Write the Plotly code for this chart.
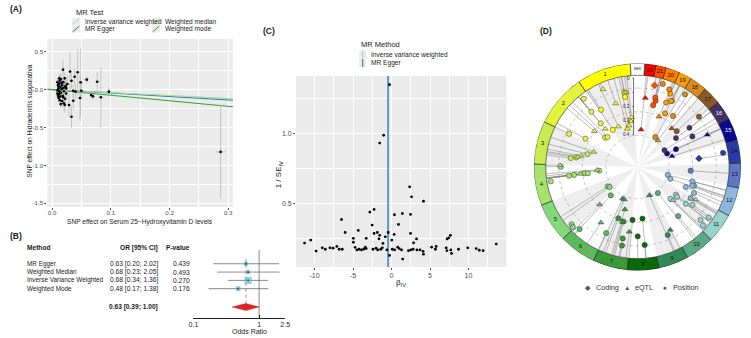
import numpy as np
import plotly.graph_objects as go

W, H = 751, 338
FONT = "Liberation Sans, Arial, sans-serif"

# ---------------- Panel A data (SNP effects) ----------------
a_bx = [0.009, 0.010, 0.011, 0.012, 0.009, 0.010, 0.013, 0.014, 0.011, 0.012,
        0.015, 0.016, 0.013, 0.017, 0.018, 0.019, 0.020, 0.021, 0.022, 0.010,
        0.012, 0.014, 0.016, 0.011, 0.009, 0.015, 0.017, 0.023, 0.013, 0.018,
        0.020, 0.012, 0.024, 0.019, 0.0186, 0.0305, 0.0435, 0.0215, 0.059, 0.0768,
        0.0384, 0.033, 0.0486, 0.0136, 0.026, 0.024, 0.036, 0.0497, 0.0666, 0.0695,
        0.083, 0.0966, 0.040, 0.0475, 0.036, 0.0288, 0.0215, 0.0147, 0.033, 0.287]
a_by = [0.10, 0.06, 0.02, -0.02, -0.05, -0.08, 0.12, 0.04, -0.11, 0.08,
        -0.04, 0.01, -0.14, 0.06, -0.08, 0.10, -0.02, 0.03, -0.12, 0.00,
        -0.06, -0.09, 0.09, 0.04, -0.01, 0.14, -0.15, 0.05, -0.03, 0.02,
        -0.18, 0.15, -0.05, -0.10, 0.265, 0.239, 0.230, 0.150, 0.133, 0.106,
        0.172, 0.119, 0.097, 0.128, 0.075, 0.017, -0.013, -0.013, -0.070, -0.088,
        -0.100, -0.026, -0.026, -0.110, -0.146, -0.203, -0.203, -0.190, -0.358, -0.822]
a_sy = [0.05, 0.04, 0.03, 0.04, 0.05, 0.06, 0.07, 0.05, 0.05, 0.04,
        0.06, 0.05, 0.07, 0.06, 0.07, 0.06, 0.08, 0.07, 0.09, 0.03,
        0.03, 0.05, 0.06, 0.04, 0.03, 0.08, 0.08, 0.08, 0.04, 0.05,
        0.10, 0.06, 0.09, 0.07, 0.13, 0.25, 0.30, 0.08, 0.05, 0.12,
        0.10, 0.10, 0.45, 0.06, 0.12, 0.10, 0.08, 0.10, 0.05, 0.04,
        0.40, 0.06, 0.10, 0.30, 0.12, 0.15, 0.10, 0.06, 0.15, 0.62]
a_sx = [0.002] * 14 + [0.003] * 6 + [0.002] * 6 + [0.003, 0.003, 0.002, 0.003,
        0.003, 0.002, 0.003, 0.003, 0.003, 0.003, 0.004, 0.003, 0.004, 0.004,
        0.003, 0.003, 0.004, 0.002, 0.003, 0.003, 0.003, 0.004, 0.004, 0.004,
        0.005, 0.005, 0.003, 0.004, 0.003, 0.003, 0.003, 0.002, 0.003, 0.0085]

mr_methods = ["Inverse variance weighted", "MR Egger", "Weighted median", "Weighted mode"]
mr_slopes = [-0.386, -0.462, -0.386, -0.734]
mr_intercepts = [0.0, 0.002, 0.0, 0.0]
mr_colors = ["#a6cee3", "#1f78b4", "#b2df8a", "#33a02c"]

# ---------------- Panel B data (forest) ----------------
b_methods = ["MR Egger", "Weighted Median", "Inverse Variance Weighted", "Weighted Mode"]
b_or = [0.63, 0.68, 0.68, 0.48]
b_lo = [0.20, 0.23, 0.34, 0.17]
b_hi = [2.02, 2.05, 1.36, 1.38]
b_p = ["0.439", "0.493", "0.270", "0.176"]
pooled_or, pooled_lo, pooled_hi = 0.63, 0.39, 1.00

# ---------------- Panel C data (funnel) ----------------
c_beta = [-0.26, -1.03, -1.54, 2.35, 2.6, 4.15, -2.82, -2.27, 0.38, 1.41, 2.47, -6.5,
          -2.52, 0.9, -6.03, -4.32, -2.27, -1.84, -0.43, 0.34, 2.47, -4.96, -4.96,
          -3.29, -1.54, -1.63, -0.81, 3.25, 2.86, 7.22, 7.44, 7.65, 0.04, -1.11, 13.6,
          -8.0, -7.6, -7.1, -6.8, -6.4, -4.74, -4.5, -4.2, -3.9, -3.6, -3.4, -3.3,
          -2.4, -2.0, -1.8, -1.4, -1.2, -0.6, -0.26, 0.1, 0.4, 0.8, 1.0, 1.3, 1.45,
          2.2, 2.5, 2.8, 3.3, 3.7, 4.1, 4.15, 5.2, 5.7, 5.8, 7.1, 7.2, 7.7, 7.8,
          8.7, 9.9, 11.0, 11.4, 11.9, -11.3, -10.5, -9.8, -9.0, -8.6]
c_inv_se = [1.348, 0.986, 0.93, 0.617, 0.545, 0.514, 0.436, 0.455, 0.417, 0.426, 0.419,
            0.383, 0.343, 0.348, 0.29, 0.305, 0.283, 0.29, 0.29, 0.276, 0.283, 0.248,
            0.22, 0.248, 0.27, 0.245, 0.259, 0.244, 0.216, 0.244, 0.252, 0.27, 0.236,
            0.212, 0.207, 0.18, 0.178, 0.19, 0.17, 0.17, 0.184, 0.165, 0.17, 0.165,
            0.172, 0.185, 0.175, 0.17, 0.178, 0.165, 0.17, 0.18, 0.165, 0.126, 0.17,
            0.165, 0.185, 0.175, 0.165, 0.10, 0.16, 0.165, 0.17, 0.165, 0.165, 0.155,
            0.135, 0.185, 0.17, 0.19, 0.18, 0.16, 0.165, 0.14, 0.17, 0.18, 0.175,
            0.163, 0.16, 0.214, 0.236, 0.157, 0.18, 0.17]
c_methods = ["Inverse variance weighted", "MR Egger"]
c_estimates = [-0.386, -0.462]
c_colors = ["#a6cee3", "#1f78b4"]

# ---------------- Panel D data (circular genome plot) ----------------
chrom_names = [str(i) for i in range(1, 23)]
chrom_len = [249, 242, 198, 190, 181, 171, 159, 145, 138, 134, 135, 133,
             114, 107, 102, 90, 83, 80, 59, 64, 47, 51]
chrom_colors = ["#ffff00", "#e3f33a", "#c8ec50", "#a6e36c", "#84d87c", "#5cba5c",
                "#3a9a3a", "#0a6a0a", "#2f8a55", "#5fa886", "#98d3cf", "#8db6de",
                "#5c78c2", "#2b3ba6", "#0b0b8a", "#463068", "#8b5a2b", "#d98c1c",
                "#ff9e00", "#ff7f00", "#ff4d00", "#ff0000"]
d_theta = [23.9, 10.0, 10.1, 18.9, 32.5, 25.2, 33.6, 14.9, 11.7, 8.2, 6.8,
           38.2, 39.8, 40.1, 40.2, 47.7, 45.0, 50.3, 61.4, 64.1,
           71.0, 75.6, 78.8, 80.3, 81.1, 82.4, 88.8,
           89.8, 97.2, 97.1, 96.9, 96.7, 97.1, 94.2, 95.5, 99.4,
           123.0, 125.6, 131.0, 133.0,
           136.8, 134.8, 146.7, 154.7, 137.0, 154.9,
           158.0, 163.5, 164.6, 159.6, 165.5, 168.3, 172.8, 168.9,
           174.7, 185.5, 180.2, 185.3,
           203.2, 207.6, 204.0,
           218.2, 219.7,
           228.2, 230.0, 234.6, 234.3, 232.9, 225.9, 226.9, 239.9, 240.8, 232.7, 235.5, 239.3,
           247.5, 251.7, 245.3, 255.4, 250.2, 255.2, 251.2,
           266.0,
           277.9, 279.4,
           287.4, 294.5, 294.8, 294.8,
           299.1, 301.9, 306.9, 307.0,
           309.3, 312.4, 318.5,
           322.5, 326.8, 325.2, 328.9,
           332.7, 332.4, 333.1, 335.9, 336.0,
           336.9, 337.7, 343.0, 344.7,
           345.6, 345.7, 348.2,
           353.5, 354.5]
d_r = [86, 76.5, 72.1, 68, 68.8, 45.3, 45.2, 40, 42.9, 46.8, 50.6,
       88, 72.9, 57.9, 50.6, 44.2, 42.9, 56.8, 60, 77,
       46.9, 52.3, 58.1, 61.2, 62.8, 68.3, 78.4,
       77.7, 69.8, 64.8, 58.1, 54.1, 50.7, 41.1, 38.9, 89,
       36, 34.8, 88.5, 89.5,
       39.4, 54, 67.4, 74.1, 86, 35.3,
       35.5, 44.8, 57.7, 55.5, 57.1, 73.9, 66.2, 81.2,
       53.9, 52.5, 70.3, 79.3,
       31.2, 71.9, 75.5,
       33.5, 64.6,
       89, 83.5, 88.5, 48, 50.2, 46.4, 49.3, 62.4, 67.6, 61.6, 67.6, 62.8,
       53, 60.4, 63, 31.7, 35.4, 57.6, 58.8,
       54,
       62.9, 87.9,
       36.7, 33, 43, 77.9,
       63.7, 32.2, 48.8, 66,
       80.5, 53.8, 52.3,
       34, 88, 63, 35.4,
       61.1, 75.6, 75.1, 81.4, 71.5,
       55.4, 85, 88, 69.5,
       72.6, 64.7, 84.5,
       70.4, 38]
d_type = ["eQTL", "Position", "Position", "eQTL", "Position", "eQTL", "Position", "eQTL", "eQTL", "eQTL", "eQTL",
          "Position", "Position", "Position", "eQTL", "Position", "Position", "eQTL", "Position", "Position",
          "eQTL", "Position", "eQTL", "eQTL", "Position", "Position", "eQTL",
          "Position", "Position", "Position", "eQTL", "Position", "Position", "eQTL", "Position", "Position",
          "Position", "Position", "Position", "Position",
          "Position", "eQTL", "eQTL", "Position", "Position", "eQTL",
          "eQTL", "eQTL", "eQTL", "Position", "Position", "Position", "eQTL", "Position",
          "Position", "Position", "Position", "Position",
          "eQTL", "eQTL", "Position",
          "Position", "Position",
          "Position", "Position", "Position", "Position", "Position", "Position", "eQTL", "Position", "eQTL", "Position", "Position", "eQTL",
          "Position", "Position", "Position", "Position", "Position", "Position", "Position",
          "Position",
          "Coding", "Position",
          "eQTL", "Position", "Position", "eQTL",
          "Position", "Position", "Position", "Position",
          "Position", "Position", "eQTL",
          "eQTL", "Position", "Position", "Position",
          "Position", "Position", "Position", "Position", "Position",
          "eQTL", "Position", "Position", "Position",
          "Position", "Position", "Coding",
          "eQTL", "eQTL"]
d_scale_ticks = ["0", "0.1", "0.2", "0.3", "0.4"]


def PX(x):
    return x / W


def PY(y):
    return 1 - y / H


fig = go.Figure()
annotations = []
shapes = []


def ann(text, x, y, size=7, xanchor="left", yanchor="middle", bold=False,
        color="#1a1a1a", angle=0, xref="paper", yref="paper"):
    if bold:
        text = "<b>" + text + "</b>"
    annotations.append(dict(text=text, x=x, y=y, xref=xref, yref=yref,
                            xanchor=xanchor, yanchor=yanchor, showarrow=False,
                            textangle=angle, font=dict(size=size, color=color, family=FONT)))


# ================= Panel A =================
xr_a = [-0.008, 0.308]
for m, s, b, c in zip(mr_methods, mr_slopes, mr_intercepts, mr_colors):
    xs = np.array(xr_a)
    fig.add_trace(go.Scatter(x=xs, y=b + s * xs, mode="lines", line=dict(color=c, width=1.1),
                             xaxis="x", yaxis="y", showlegend=False, name=m, hoverinfo="skip"))
fig.add_trace(go.Scatter(
    x=a_bx, y=a_by, mode="markers", xaxis="x", yaxis="y", showlegend=False,
    marker=dict(size=2.6, color="black"),
    error_y=dict(type="data", array=a_sy, width=0, thickness=0.7, color="#b3b3b3"),
    error_x=dict(type="data", array=a_sx, width=0, thickness=0.7, color="#b3b3b3")))

# ================= Panel B =================
b_rows = [1, 2, 3, 4]
sum_row = 6.2
ci_x, ci_y = [], []
for lo, hi, r in zip(b_lo, b_hi, b_rows):
    ci_x += [lo, hi, None]
    ci_y += [r, r, None]
fig.add_trace(go.Scatter(x=ci_x, y=ci_y, mode="lines", line=dict(color="#6b6b6b", width=0.8),
                         xaxis="x2", yaxis="y2", showlegend=False, hoverinfo="skip"))
weights = [1.0 / (np.log(h) - np.log(l)) for l, h in zip(b_lo, b_hi)]
fig.add_trace(go.Scatter(x=b_or, y=b_rows, mode="markers", xaxis="x2", yaxis="y2", showlegend=False,
                         marker=dict(symbol="square", size=[10 * w for w in weights],
                                     color="#62c2cd", line=dict(width=0))))
fig.add_trace(go.Scatter(x=b_or, y=b_rows, mode="markers", xaxis="x2", yaxis="y2", showlegend=False,
                         marker=dict(symbol="square", size=1.8, color="#2a4a50")))
fig.add_trace(go.Scatter(x=[pooled_lo, pooled_or, pooled_hi, pooled_or, pooled_lo],
                         y=[sum_row, sum_row - 0.42, sum_row, sum_row + 0.42, sum_row],
                         mode="lines", fill="toself", fillcolor="#d9262b",
                         line=dict(color="#d9262b", width=0.5),
                         xaxis="x2", yaxis="y2", showlegend=False, hoverinfo="skip"))
shapes.append(dict(type="line", xref="x2", yref="y2", x0=1, x1=1, y0=-0.66, y1=7.53,
                   line=dict(color="#6b6b6b", width=0.8), layer="below"))
shapes.append(dict(type="line", xref="x2", yref="y2", x0=pooled_or, x1=pooled_or, y0=0.4, y1=6.9,
                   line=dict(color="#6b6b6b", width=0.7, dash="dot"), layer="below"))

ann("Method", PX(20), -0.9, size=6.6, bold=True, yref="y2")
ann("OR [95% CI]", PX(157), -0.9, size=6.6, bold=True, xanchor="right", yref="y2")
ann("P-value", PX(190), -0.9, size=6.6, bold=True, xanchor="right", yref="y2")
for m, o, l, h, p, r in zip(b_methods, b_or, b_lo, b_hi, b_p, b_rows):
    ann(m, PX(20), r, size=6.4, yref="y2", color="#222")
    ann("%.2f [%.2f; %.2f]" % (o, l, h), PX(157), r, size=6.7, xanchor="right", yref="y2", color="#222")
    ann(p, PX(190), r, size=6.7, xanchor="right", yref="y2", color="#222")
ann("%.2f [%.2f; %.2f]" % (pooled_or, pooled_lo, pooled_hi), PX(157), sum_row, size=6.6,
    xanchor="right", bold=True, yref="y2")
ann("Odds Ratio", PX(248), PY(331), size=7, xanchor="center", color="#222")

# ================= Panel C =================
for m, e, c in zip(c_methods, c_estimates, c_colors):
    fig.add_trace(go.Scatter(x=[e, e], y=[0.043, 1.41], mode="lines", line=dict(color=c, width=1.2),
                             xaxis="x3", yaxis="y3", showlegend=False, name=m, hoverinfo="skip"))
fig.add_trace(go.Scatter(x=c_beta, y=c_inv_se, mode="markers", xaxis="x3", yaxis="y3",
                         showlegend=False, marker=dict(size=2.8, color="black")))

# ================= Panel D =================
sex_width = 8.0
deg_per_mb = (360 - sex_width) / sum(chrom_len)
widths = [L * deg_per_mb for L in chrom_len]
starts = sex_width / 2 + np.concatenate([[0], np.cumsum(widths)[:-1]])
centers = starts + np.array(widths) / 2
R_IN, R_OUT = 93, 105

# background sectors
fig.add_trace(go.Barpolar(theta=list(centers), r=[R_IN] * 22, width=widths, base=0,
                          marker=dict(color=["#eeeeee" if i % 2 == 0 else "white" for i in range(22)],
                                      line=dict(width=0)),
                          showlegend=False, hoverinfo="skip", subplot="polar"))
# dashed guide circles
circ_t = np.linspace(0, 360, 181)
for rr in [32, 56, 80]:
    fig.add_trace(go.Scatterpolar(theta=circ_t, r=[rr] * len(circ_t), mode="lines",
                                  line=dict(color="#9a9a9a", width=0.6, dash="dot"),
                                  showlegend=False, hoverinfo="skip", subplot="polar"))
# connecting lines
lt, lr = [], []
for t, r in zip(d_theta, d_r):
    lt += [t, t, None]
    lr += [r, R_IN, None]
fig.add_trace(go.Scatterpolar(theta=lt, r=lr, mode="lines", line=dict(color="#7a7a7a", width=0.5),
                              showlegend=False, hoverinfo="skip", subplot="polar"))
# chromosome ring
fig.add_trace(go.Barpolar(theta=list(centers) + [0], r=[R_OUT - R_IN] * 23, width=widths + [sex_width],
                          base=R_IN,
                          marker=dict(color=chrom_colors + ["white"], line=dict(color="#222", width=0.6)),
                          showlegend=False, hoverinfo="skip", subplot="polar"))
lab_colors = ["white" if n in ("15", "16") else "#111" for n in chrom_names]
fig.add_trace(go.Scatterpolar(theta=list(centers), r=[(R_IN + R_OUT) / 2] * 22, mode="text",
                              text=chrom_names, textfont=dict(size=5.8, color=lab_colors, family=FONT),
                              showlegend=False, hoverinfo="skip", subplot="polar"))
fig.add_trace(go.Scatterpolar(theta=[0], r=[(R_IN + R_OUT) / 2], mode="text", text=["sex"],
                              textfont=dict(size=4.5, color="#111", family=FONT),
                              showlegend=False, hoverinfo="skip", subplot="polar"))
# points
bounds = np.concatenate([starts, [starts[-1] + widths[-1]]])
pt_chrom = np.clip(np.searchsorted(bounds, d_theta, side="right") - 1, 0, 21)
pt_colors = [chrom_colors[i] for i in pt_chrom]
sym = {"Position": "circle", "eQTL": "triangle-up", "Coding": "diamond"}
for typ in ["Position", "eQTL", "Coding"]:
    idx = [i for i, t in enumerate(d_type) if t == typ]
    fig.add_trace(go.Scatterpolar(theta=[d_theta[i] for i in idx], r=[d_r[i] for i in idx],
                                  mode="markers", showlegend=False, subplot="polar",
                                  marker=dict(symbol=sym[typ], size=5.2,
                                              color=[pt_colors[i] for i in idx],
                                              line=dict(color="#333", width=0.5))))

# scale bar at top of circle
sb_x, sb_top, sb_bot = 637, 78, 135
shapes.append(dict(type="line", xref="paper", yref="paper", x0=PX(sb_x), x1=PX(sb_x),
                   y0=PY(sb_top), y1=PY(sb_bot), line=dict(color="#222", width=0.6)))
for k, lab in enumerate(d_scale_ticks):
    yy = sb_top + k * (sb_bot - sb_top) / (len(d_scale_ticks) - 1)
    shapes.append(dict(type="line", xref="paper", yref="paper", x0=PX(sb_x - 1.5), x1=PX(sb_x),
                       y0=PY(yy), y1=PY(yy), line=dict(color="#222", width=0.5)))
    ann(lab, PX(sb_x - 2), PY(yy), size=4.5, xanchor="right", color="#222")

# D legend
ann("◆", PX(591), PY(287), size=6.5, xanchor="center", color="#555")
ann("Coding", PX(597), PY(287), size=7.2, color="#333")
ann("▲", PX(630), PY(287), size=6.5, xanchor="center", color="#555")
ann("eQTL", PX(636), PY(287), size=7.2, color="#333")
ann("●", PX(669), PY(287), size=6.5, xanchor="center", color="#555")
ann("Position", PX(675), PY(287), size=7.2, color="#333")

# ================= Legends A & C (drawn) =================
ann("MR Test", PX(70), PY(12.5), size=7.5, color="#222")
keysA = [(68, 18, 0), (68, 25.5, 1), (149, 18, 2), (149, 25.5, 3)]
for kx, ky, mi in keysA:
    shapes.append(dict(type="rect", xref="paper", yref="paper", x0=PX(kx), x1=PX(kx + 8),
                       y0=PY(ky + 7), y1=PY(ky), fillcolor="#ebebeb", line=dict(width=0)))
    shapes.append(dict(type="line", xref="paper", yref="paper", x0=PX(kx + 0.5), x1=PX(kx + 7.5),
                       y0=PY(ky + 6.5), y1=PY(ky + 0.5), line=dict(color=mr_colors[mi], width=1)))
    ann(mr_methods[mi], PX(kx + 11), PY(ky + 3.6), size=6.6, color="#222")

ann("MR Method", PX(359), PY(44), size=7.5, color="#222")
for k, (m, c) in enumerate(zip(c_methods, c_colors)):
    ky = 50.5 + k * 8.5
    shapes.append(dict(type="rect", xref="paper", yref="paper", x0=PX(359), x1=PX(366),
                       y0=PY(ky + 8), y1=PY(ky), fillcolor="#ebebeb", line=dict(width=0)))
    shapes.append(dict(type="line", xref="paper", yref="paper", x0=PX(362.5), x1=PX(362.5),
                       y0=PY(ky + 8), y1=PY(ky), line=dict(color=c, width=1)))
    ann(m, PX(369), PY(ky + 4.2), size=6.6, color="#222")

# panel backgrounds (ggplot grey)
for xr, yr in [("x", "y"), ("x3", "y3")]:
    shapes.append(dict(type="rect", xref=xr + " domain", yref=yr + " domain", x0=0, x1=1, y0=0, y1=1,
                       fillcolor="#ebebeb", line=dict(width=0), layer="below"))

# panel labels
ann("(A)", PX(3), PY(2.5), size=8.5, bold=True, yanchor="top")
ann("(B)", PX(3), PY(229), size=8.5, bold=True, yanchor="top")
ann("(C)", PX(259), PY(24), size=8.5, bold=True, yanchor="top")
ann("(D)", PX(540), PY(24), size=8.5, bold=True, yanchor="top")

# axis titles
ann("SNP effect on Serum 25\u2212Hydroxyvitamin D levels", PX(137), PY(221.5), size=6.6,
    xanchor="center", color="#222")
ann("SNP effect on Hidradenitis suppurativa", PX(25), PY(121), size=6.6, xanchor="center",
    angle=-90, color="#222")
ann("\u03b2<sub>IV</sub>", PX(401), PY(283), size=8, xanchor="center", color="#222")
ann("1 / SE<sub>IV</sub>", PX(278), PY(175), size=8, xanchor="center", angle=-90, color="#222")

tickfont_a = dict(size=6.2, color="#4d4d4d", family=FONT)
tickfont_c = dict(size=7, color="#4d4d4d", family=FONT)
grid_common = dict(showgrid=True, gridcolor="white", gridwidth=1, zeroline=False, showline=False,
                   ticks="outside", ticklen=2, tickwidth=0.6, tickcolor="#4d4d4d")

fig.update_layout(
    width=W, height=H, margin=dict(l=0, r=0, t=0, b=0),
    paper_bgcolor="white", plot_bgcolor="rgba(0,0,0,0)",
    font=dict(family=FONT),
    xaxis=dict(domain=[PX(43), PX(231)], range=xr_a, anchor="y",
               tickvals=[0, 0.1, 0.2, 0.3], ticktext=["0.0", "0.1", "0.2", "0.3"],
               tickfont=tickfont_a, ticklabelstandoff=-2,
               minor=dict(tickvals=[0.05, 0.15, 0.25], showgrid=True, gridcolor="white", gridwidth=0.5),
               **grid_common),
    yaxis=dict(domain=[PY(207), PY(39)], range=[-1.55, 0.67], anchor="x",
               tickvals=[0.5, 0, -0.5, -1, -1.5], ticktext=["0.5", "0.0", "-0.5", "-1.0", "-1.5"],
               tickfont=tickfont_a,
               minor=dict(tickvals=[0.25, -0.25, -0.75, -1.25], showgrid=True, gridcolor="white",
                          gridwidth=0.5),
               **grid_common),
    xaxis2=dict(domain=[PX(191), PX(284)], type="log", range=[-1, np.log10(2.5)], anchor="y2",
                tickvals=[0.1, 1, 2.5], ticktext=["0.1", "1", "2.5"], ticks="inside", ticklen=3,
                tickwidth=0.6, tickcolor="#222", showline=True, linecolor="#222", linewidth=0.6,
                showgrid=False, zeroline=False, tickfont=dict(size=7, color="#222", family=FONT)),
    yaxis2=dict(domain=[PY(318), PY(243)], range=[7.53, -1.5], anchor="x2", visible=False),
    xaxis3=dict(domain=[PX(295), PX(508)], range=[-12.4, 14.9], anchor="y3",
                tickvals=[-10, -5, 0, 5, 10], ticktext=["-10", "-5", "0", "5", "10"],
                tickfont=tickfont_c,
                minor=dict(tickvals=[-7.5, -2.5, 2.5, 7.5, 12.5], showgrid=True, gridcolor="white",
                           gridwidth=0.5),
                **grid_common),
    yaxis3=dict(domain=[PY(267), PY(76)], range=[0.043, 1.41], anchor="x3",
                tickvals=[0.5, 1.0], ticktext=["0.5", "1.0"], tickfont=tickfont_c,
                minor=dict(tickvals=[0.25, 0.75, 1.25], showgrid=True, gridcolor="white", gridwidth=0.5),
                **grid_common),
    polar=dict(domain=dict(x=[PX(536), PX(746)], y=[PY(272), PY(62)]), bgcolor="white",
               radialaxis=dict(visible=False, range=[0, R_OUT]),
               angularaxis=dict(visible=False, rotation=90, direction="counterclockwise"),
               hole=0),
    annotations=annotations, shapes=shapes,
)

fig.write_html("out.html")
